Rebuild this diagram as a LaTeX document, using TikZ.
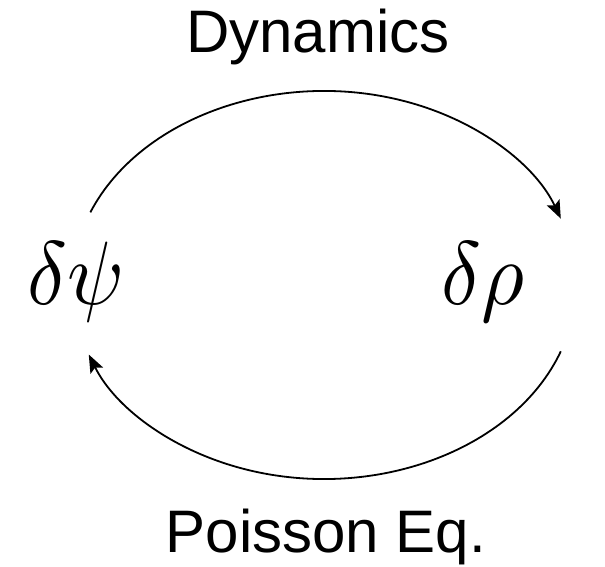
\documentclass[tikz,border=0pt]{standalone}
\usepackage{graphicx}
\usepackage{fontspec}
\setmainfont{Liberation Sans}
\usetikzlibrary{arrows.meta}
\begin{document}
\begin{tikzpicture}[x=1pt,y=1pt,
  lbl/.style={font=\fontsize{60}{62}\selectfont, inner sep=0pt},
  sym/.style={inner sep=0pt},
  cyc/.style={line width=1.8pt, -{Stealth[length=18pt,width=14pt,inset=3.5pt]}}]
\useasboundingbox (0,0) rectangle (605,567);
\node[lbl, anchor=base] (dyn) at (318,514) {Dynamics};
\node[lbl, anchor=base] (poi) at (326,14) {Poisson Eq.};
\node[sym, anchor=base west] (psi) at (27,262) {\scalebox{8.3}[9.0]{$\delta\psi$}};
\node[sym, anchor=base west] (rho) at (441,262) {\scalebox{8.3}[9.0]{$\delta\rho$}};
\coordinate (c) at (324,282);
\coordinate (s1) at ([shift={(158:252 and 194)}]c);
\coordinate (s2) at ([shift={(-20:252 and 194)}]c);
\draw[cyc] (s1) arc[start angle=158, end angle=20, x radius=252, y radius=194];
\draw[cyc] (s2) arc[start angle=-20, end angle=-159, x radius=252, y radius=194];
\end{tikzpicture}
\end{document}
